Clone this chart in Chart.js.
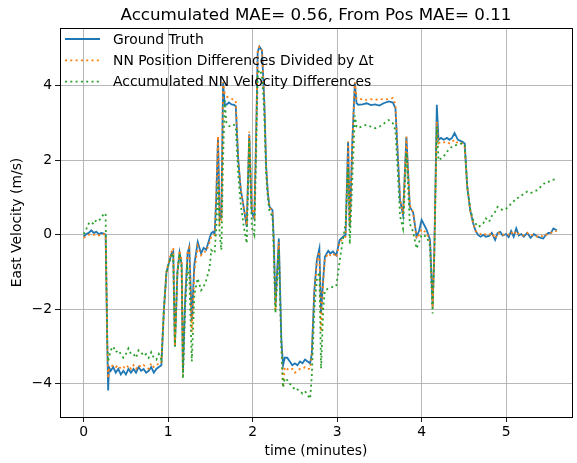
<!DOCTYPE html>
<html>
<head>
<meta charset="utf-8">
<script src="https://cdn.jsdelivr.net/npm/chart.js@4.4.1/dist/chart.umd.min.js"></script>
<style>
  html, body { margin: 0; padding: 0; background: #fff; }
</style>
</head>
<body>
<canvas id="chart" width="577" height="463"></canvas>
<script>
var chartTitle = 'Accumulated MAE= 0.56, From Pos MAE= 0.11';
var seriesNames = ['Ground Truth', 'NN Position Differences Divided by \u0394t', 'Accumulated NN Velocity Differences'];
var xTicks = [0, 1, 2, 3, 4, 5];
var yTicks = [-4, -2, 0, 2, 4];

// time in minutes
var times = [
  0.00, 0.03, 0.06, 0.09, 0.12, 0.15, 0.18, 0.21, 0.24, 0.26, 0.28, 0.29, 0.30, 0.32, 0.35, 0.38,
  0.41, 0.44, 0.47, 0.50, 0.53, 0.56, 0.59, 0.62, 0.65, 0.68, 0.71, 0.74, 0.77, 0.80, 0.83, 0.86,
  0.89, 0.92, 0.95, 0.98, 1.01, 1.04, 1.06, 1.08, 1.11, 1.135, 1.16, 1.175, 1.20, 1.23, 1.25, 1.28,
  1.31, 1.35, 1.39, 1.42, 1.45, 1.49, 1.51, 1.53, 1.55, 1.57, 1.59, 1.61, 1.63, 1.65, 1.67, 1.69,
  1.72, 1.75, 1.78, 1.80, 1.83, 1.86, 1.89, 1.93, 1.96, 1.99, 2.02, 2.04, 2.06, 2.08, 2.11, 2.13,
  2.14, 2.16, 2.18, 2.20, 2.235, 2.25, 2.27, 2.29, 2.31, 2.34, 2.36, 2.38, 2.41, 2.44, 2.47, 2.50,
  2.53, 2.56, 2.59, 2.62, 2.65, 2.68, 2.70, 2.73, 2.76, 2.79, 2.81, 2.835, 2.855, 2.895, 2.92, 2.95,
  2.99, 3.03, 3.07, 3.10, 3.13, 3.15, 3.18, 3.21, 3.23, 3.25, 3.30, 3.35, 3.40, 3.45, 3.50, 3.55,
  3.61, 3.66, 3.69, 3.71, 3.745, 3.78, 3.82, 3.86, 3.90, 3.94, 3.97, 4.00, 4.06, 4.10, 4.13, 4.15,
  4.18, 4.20, 4.23, 4.26, 4.30, 4.33, 4.36, 4.39, 4.43, 4.48, 4.51, 4.54, 4.575, 4.61, 4.64, 4.67,
  4.70, 4.73, 4.76, 4.80, 4.83, 4.87, 4.90, 4.93, 4.96, 5.00, 5.03, 5.06, 5.09, 5.12, 5.15, 5.18,
  5.21, 5.25, 5.29, 5.33, 5.37, 5.41, 5.44, 5.47, 5.50, 5.53, 5.56, 5.60
];

var groundTruth = [
  -0.05, 0.02, 0.05, 0.12, 0.05, 0.08, 0.02, 0.05, 0.03, 0.00, -3.0, -4.18, -3.55, -3.65, -3.55, -3.7,
  -3.6, -3.75, -3.65, -3.75, -3.6, -3.7, -3.6, -3.7, -3.55, -3.65, -3.6, -3.7, -3.65, -3.55, -3.7, -3.6,
  -3.55, -3.5, -2.0, -1.0, -0.75, -0.5, -0.45, -3.0, -1.0, -0.48, -0.8, -3.7, -1.8, -0.5, -0.32, -2.3,
  -0.8, -0.19, -0.5, -0.35, -0.4, -0.1, 0.04, 0.08, 0.02, 1.0, 2.6, 0.4, 0.5, 4.07, 3.5, 3.49,
  3.55, 3.5, 3.49, 3.45, 2.0, 1.2, 0.8, 0.21, 2.7, 0.6, 0.44, 2.5, 4.9, 5.05, 4.95, 4.0,
  3.44, 1.83, 1.11, 0.75, 0.66, -0.14, -1.9, -1.0, -0.1, -2.83, -3.5, -3.3, -3.3, -3.4, -3.5, -3.45,
  -3.5, -3.4, -3.45, -3.35, -3.4, -3.45, -3.2, -1.5, -0.68, -0.37, -2.1, -1.2, -0.59, -0.43, -0.5, -0.45,
  -0.55, -0.14, -0.05, 0.0, 2.5, 0.21, 2.5, 4.07, 3.53, 3.49, 3.5, 3.53, 3.48, 3.5, 3.47, 3.53,
  3.58, 3.55, 3.4, 2.5, 0.93, 0.53, 2.63, 0.75, 0.6, -0.05, 0.1, 0.4, 0.13, -0.14, -1.93, -0.5,
  3.49, 2.55, 2.6, 2.55, 2.6, 2.55, 2.6, 2.73, 2.55, 2.5, 2.45, 1.29, 0.66, 0.31, 0.1, -0.01,
  -0.05, 0.0, -0.05, -0.03, 0.05, -0.14, 0.05, 0.08, -0.02, 0.02, -0.06, 0.1, -0.05, 0.17, -0.02, 0.02,
  -0.05, 0.05, -0.08, 0.02, -0.05, -0.08, -0.1, 0.0, 0.05, 0.05, 0.17, 0.12
];

var nnPosDiff = [
  -0.08, -0.05, 0.0, 0.02, 0.0, 0.02, -0.02, 0.0, 0.02, 0.0, -3.0, -3.85, -3.6, -3.55, -3.5, -3.55,
  -3.5, -3.6, -3.55, -3.6, -3.5, -3.6, -3.5, -3.6, -3.5, -3.55, -3.5, -3.55, -3.6, -3.45, -3.55, -3.5,
  -3.45, -3.45, -2.0, -1.0, -0.7, -0.45, -0.35, -3.0, -1.0, -0.42, -0.7, -3.75, -1.8, -0.45, -0.35, -2.6,
  -1.0, -0.3, -0.55, -0.45, -0.45, -0.2, -0.05, -0.05, 0.0, 1.2, 2.65, 0.3, 0.4, 4.1, 3.8, 3.71,
  3.68, 3.65, 3.62, 3.6, 2.0, 1.2, 0.8, 0.26, 2.77, 0.7, 0.5, 2.5, 4.95, 5.05, 5.0, 4.0,
  3.4, 1.8, 1.1, 0.75, 0.6, -0.3, -2.03, -1.1, -0.2, -2.9, -4.09, -3.55, -3.6, -3.64, -3.6, -3.7,
  -3.65, -3.6, -3.6, -3.55, -3.6, -3.6, -3.2, -1.6, -0.75, -0.45, -2.6, -1.3, -0.65, -0.5, -0.55, -0.5,
  -0.6, -0.2, -0.1, -0.05, 2.5, 0.25, 2.5, 4.1, 3.65, 3.62, 3.65, 3.62, 3.64, 3.62, 3.65, 3.63,
  3.64, 3.67, 3.5, 2.5, 0.95, 0.55, 2.63, 0.8, 0.6, -0.1, 0.0, 0.15, 0.05, -0.2, -1.95, -0.5,
  3.04, 2.46, 2.5, 2.48, 2.5, 2.45, 2.5, 2.55, 2.45, 2.45, 2.37, 1.3, 0.66, 0.3, 0.1, 0.05,
  0.02, 0.05, 0.0, 0.0, 0.05, -0.1, 0.05, 0.05, 0.0, 0.02, 0.0, 0.08, 0.0, 0.1, 0.02, 0.0,
  -0.02, 0.05, -0.02, 0.0, -0.05, -0.02, -0.05, 0.0, 0.02, 0.05, 0.1, 0.1
];

var nnAccVel = [
  0.02, 0.15, 0.30, 0.35, 0.28, 0.40, 0.38, 0.45, 0.58, 0.55, -2.9, -3.4, -3.3, -3.1, -3.0, -3.15,
  -3.1, -3.2, -3.3, -3.2, -3.05, -3.2, -3.2, -3.3, -3.1, -3.15, -3.25, -3.2, -3.3, -3.15, -3.3, -3.35,
  -3.2, -3.35, -2.0, -1.0, -0.75, -0.55, -0.5, -3.0, -1.0, -0.5, -0.9, -3.86, -2.0, -0.9, -1.13, -3.4,
  -1.6, -1.17, -1.49, -1.4, -1.22, -0.9, -0.41, -0.45, -0.49, 0.2, 1.4, 0.0, -0.41, 2.0, 3.6, 2.99,
  2.92, 2.9, 2.95, 2.9, 1.6, 0.8, 0.3, -0.23, 2.55, 0.2, 0.0, 2.0, 4.3, 4.43, 4.3, 3.6,
  3.1, 1.6, 1.0, 0.6, 0.5, -0.4, -2.1, -1.2, -0.4, -3.0, -4.1, -3.85, -3.9, -4.0, -4.05, -4.17,
  -4.15, -4.2, -4.26, -4.2, -4.3, -4.4, -3.8, -2.0, -1.2, -1.0, -3.59, -2.0, -1.5, -1.44, -1.42, -1.4,
  -1.38, -0.71, -0.1, 0.3, 1.8, -0.25, 1.5, 3.2, 2.9, 2.86, 2.92, 2.95, 2.9, 2.86, 2.9, 2.98,
  3.08, 2.99, 2.8, 2.0, 0.5, 0.17, 2.2, 0.3, 0.08, -0.37, -0.2, 0.0, -0.05, -0.3, -2.11, -0.6,
  2.9, 2.0, 2.05, 2.1, 2.23, 2.3, 2.37, 2.4, 2.42, 2.46, 2.4, 1.3, 0.7, 0.4, 0.3, 0.21,
  0.25, 0.31, 0.44, 0.35, 0.5, 0.62, 0.75, 0.7, 0.66, 0.7, 0.75, 0.84, 0.9, 0.98, 1.0, 1.05,
  1.1, 1.16, 1.12, 1.16, 1.2, 1.29, 1.35, 1.42, 1.42, 1.46, 1.48, 1.49
];

function toPoints(values) {
    return times.map(function (t, i) { return { x: t, y: values[i] }; });
}

var font = '"DejaVu Sans", "Liberation Sans", sans-serif';

var overlay = {
    id: 'overlay',
    afterDraw: function (chart) {
        var ctx = chart.ctx;
        var a = chart.chartArea;
        ctx.save();
        // frame on all four sides
        ctx.strokeStyle = '#000';
        ctx.lineWidth = 1;
        ctx.setLineDash([]);
        ctx.strokeRect(Math.round(a.left) + 0.5, Math.round(a.top) + 0.5,
            Math.round(a.right - a.left), Math.round(a.bottom - a.top));
        // title
        ctx.fillStyle = '#000';
        ctx.font = '16.7px ' + font;
        ctx.textAlign = 'center';
        ctx.textBaseline = 'alphabetic';
        ctx.fillText(chartTitle, (a.left + a.right) / 2, 20);
        // legend (no frame)
        ctx.font = '13.9px ' + font;
        ctx.textAlign = 'left';
        ctx.textBaseline = 'middle';
        chart.data.datasets.forEach(function (ds, i) {
            var y = a.top + 11 + i * 21.3;
            ctx.strokeStyle = ds.borderColor;
            ctx.lineWidth = ds.borderWidth;
            ctx.setLineDash(ds.borderDash || []);
            ctx.beginPath();
            ctx.moveTo(a.left + 5, y);
            ctx.lineTo(a.left + 40, y);
            ctx.stroke();
            ctx.setLineDash([]);
            ctx.fillStyle = '#000';
            ctx.fillText(ds.label, a.left + 53, y + 1);
        });
        ctx.restore();
    }
};

var config = {
    type: 'line',
    data: {
        datasets: [{
            label: seriesNames[0],
            data: toPoints(groundTruth),
            borderColor: '#1f77b4',
            borderWidth: 1.8,
            order: 2
        }, {
            label: seriesNames[1],
            data: toPoints(nnPosDiff),
            borderColor: '#ff7f0e',
            borderWidth: 1.8,
            borderDash: [2, 3.3],
            order: 1
        }, {
            label: seriesNames[2],
            data: toPoints(nnAccVel),
            borderColor: '#2ca02c',
            borderWidth: 1.8,
            borderDash: [2, 3.3],
            order: 0
        }]
    },
    options: {
        responsive: false,
        animation: false,
        parsing: false,
        elements: {
            point: { radius: 0 },
            line: { tension: 0, borderCapStyle: 'butt', fill: false }
        },
        layout: { padding: { top: 28, right: 5, left: 0, bottom: 0 } },
        plugins: {
            legend: { display: false },
            title: { display: false },
            tooltip: { enabled: false }
        },
        scales: {
            x: {
                type: 'linear',
                min: -0.28,
                max: 5.78,
                afterFit: function (s) { s.height = 46; },
                afterBuildTicks: function (s) { s.ticks = xTicks.map(function (v) { return { value: v }; }); },
                grid: { color: '#b0b0b0', lineWidth: 0.9, tickColor: '#000', tickLength: 5 },
                border: { display: false },
                ticks: { color: '#000', font: { family: font, size: 13.9 }, padding: 2, maxRotation: 0 },
                title: { display: true, text: 'time (minutes)', color: '#000',
                    font: { family: font, size: 13.9 }, padding: { top: 0, bottom: 3 } }
            },
            y: {
                type: 'linear',
                min: -4.89,
                max: 5.55,
                afterFit: function (s) { s.width = 60; },
                afterBuildTicks: function (s) { s.ticks = yTicks.map(function (v) { return { value: v }; }); },
                grid: { color: '#b0b0b0', lineWidth: 0.9, tickColor: '#000', tickLength: 5 },
                border: { display: false },
                ticks: {
                    color: '#000', font: { family: font, size: 13.9 }, padding: 3,
                    callback: function (v) { return v < 0 ? '\u2212' + Math.abs(v) : String(v); }
                },
                title: { display: true, text: 'East Velocity (m/s)', color: '#000',
                    font: { family: font, size: 13.9 }, padding: { top: 9, bottom: 0 } }
            }
        }
    },
    plugins: [overlay]
};

window.onload = function () {
    var ctx = document.getElementById('chart').getContext('2d');
    window.velChart = new Chart(ctx, config);
};
</script>
</body>
</html>
